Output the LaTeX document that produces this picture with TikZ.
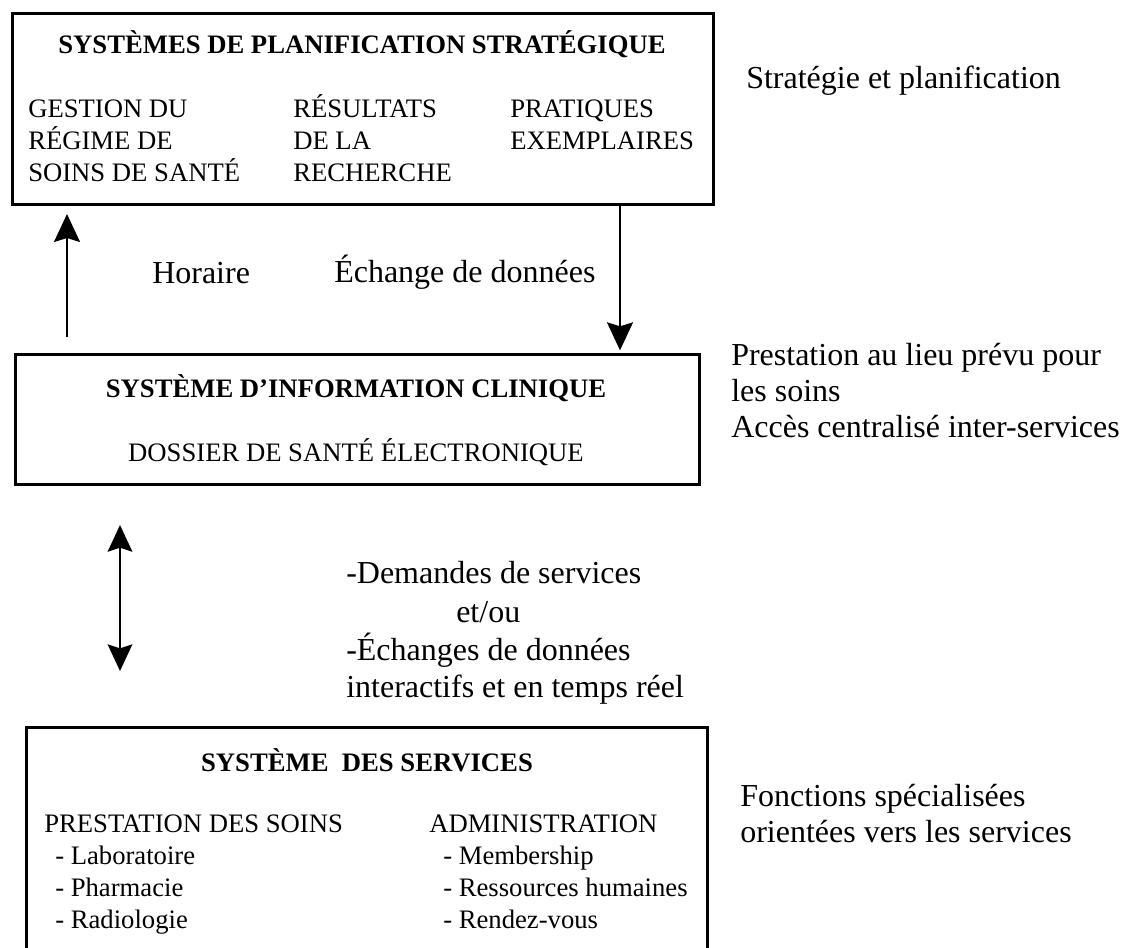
\documentclass[tikz,border=0pt]{standalone}
\usepackage{fontspec}
\setmainfont{Liberation Serif}
\usetikzlibrary{positioning,arrows.meta}
\newlength\pxu
\setlength\pxu{0.75pt}
\tikzset{
  sysbox/.style ={rectangle, draw=black, line width=2.25pt, anchor=north west, inner sep=0pt},
  boxttl/.style ={font=\fontsize{20}{23}\selectfont\bfseries, anchor=base, inner sep=0pt},
  boxtxt/.style ={font=\fontsize{20}{23}\selectfont, anchor=base west, inner sep=0pt},
  lbl/.style    ={font=\fontsize{24}{28}\selectfont, anchor=base west, inner sep=0pt},
  arr/.style    ={-{Stealth[length=21pt, width=19.5pt, inset=3pt]}, line width=1.5pt},
  darr/.style   ={{Stealth[length=20pt, width=18.5pt, inset=3pt]}-{Stealth[length=20pt, width=18.5pt, inset=3pt]}, line width=1.5pt},
}

\begin{document}
\begin{tikzpicture}[x=0.75pt, y=-0.75pt]
  \useasboundingbox (0,0) rectangle (1130,947);
  % the three systems
  \node[sysbox, minimum width=701\pxu, minimum height=191\pxu] (plan) at (11,12) {};
  \node[sysbox, minimum width=684\pxu, minimum height=130\pxu] (info) at (14,353) {};
  \node[sysbox, minimum width=681\pxu, minimum height=236\pxu] (serv) at (25,726) {};

  % top box
  \node[boxttl] (planttl) at (362,53) {SYSTÈMES DE PLANIFICATION STRATÉGIQUE};
  \foreach \t [count=\i] in {GESTION DU, RÉGIME DE, SOINS DE SANTÉ}
    \node[boxtxt] (gest\i) at (28,117+32*\i-32) {\t};
  \foreach \t [count=\i] in {RÉSULTATS, DE LA, RECHERCHE}
    \node[boxtxt] (res\i) at (293,117+32*\i-32) {\t};
  \foreach \t [count=\i] in {PRATIQUES, EXEMPLAIRES}
    \node[boxtxt] (prat\i) at (510,117+32*\i-32) {\t};
  \node[lbl] (strat) at (746,88) {Stratégie et planification};

  % between top and middle
  \coordinate (hup) at (67,337);
  \coordinate (edown) at (620,0);
  \draw[arr, shorten >=6pt] (hup) -- (hup |- plan.south);
  \draw[arr, shorten >=2pt] (edown |- plan.south) -- (edown |- info.north);
  \node[lbl] (hor) at (152,283) {Horaire};
  \node[lbl] (ech) at (334,282) {Échange de données};

  % middle box
  \node[boxttl] (infottl) at (356,397) {SYSTÈME D’INFORMATION CLINIQUE};
  \node[boxtxt, anchor=base] (dse) at (356,461) {DOSSIER DE SANTÉ ÉLECTRONIQUE};
  \node[lbl] (prest1) at (731,365) {Prestation au lieu prévu pour};
  \node[lbl] (prest2) at (731,401) {les soins};
  \node[lbl] (acces) at (731,437) {Accès centralisé inter-services};

  % between middle and bottom
  \coordinate (dtop) at (120,525);
  \coordinate (dbot) at (120,671);
  \draw[darr] (dtop) -- (dbot);
  \node[lbl] (dem) at (346,583) {-Demandes de services};
  \node[lbl] (etou) at (456,622) {et/ou};
  \node[lbl] (echs) at (346,660) {-Échanges de données};
  \node[lbl] (inter) at (346,697) {interactifs et en temps réel};

  % bottom box
  \node[boxttl] (servttl) at (367,771) {SYSTÈME\ \ DES SERVICES};
  \node[boxtxt] (soins) at (44,832) {PRESTATION DES SOINS};
  \foreach \t [count=\i] in {Laboratoire, Pharmacie, Radiologie}
    \node[boxtxt] (soin\i) at (55,832+32*\i) {- \t};
  \node[boxtxt] (adm) at (429,832) {ADMINISTRATION};
  \foreach \t [count=\i] in {Membership, Ressources humaines, Rendez-vous}
    \node[boxtxt] (adm\i) at (443,832+32*\i) {- \t};
  \node[lbl] (fonc1) at (740,806) {Fonctions spécialisées};
  \node[lbl] (fonc2) at (740,842) {orientées vers les services};
\end{tikzpicture}
\end{document}
